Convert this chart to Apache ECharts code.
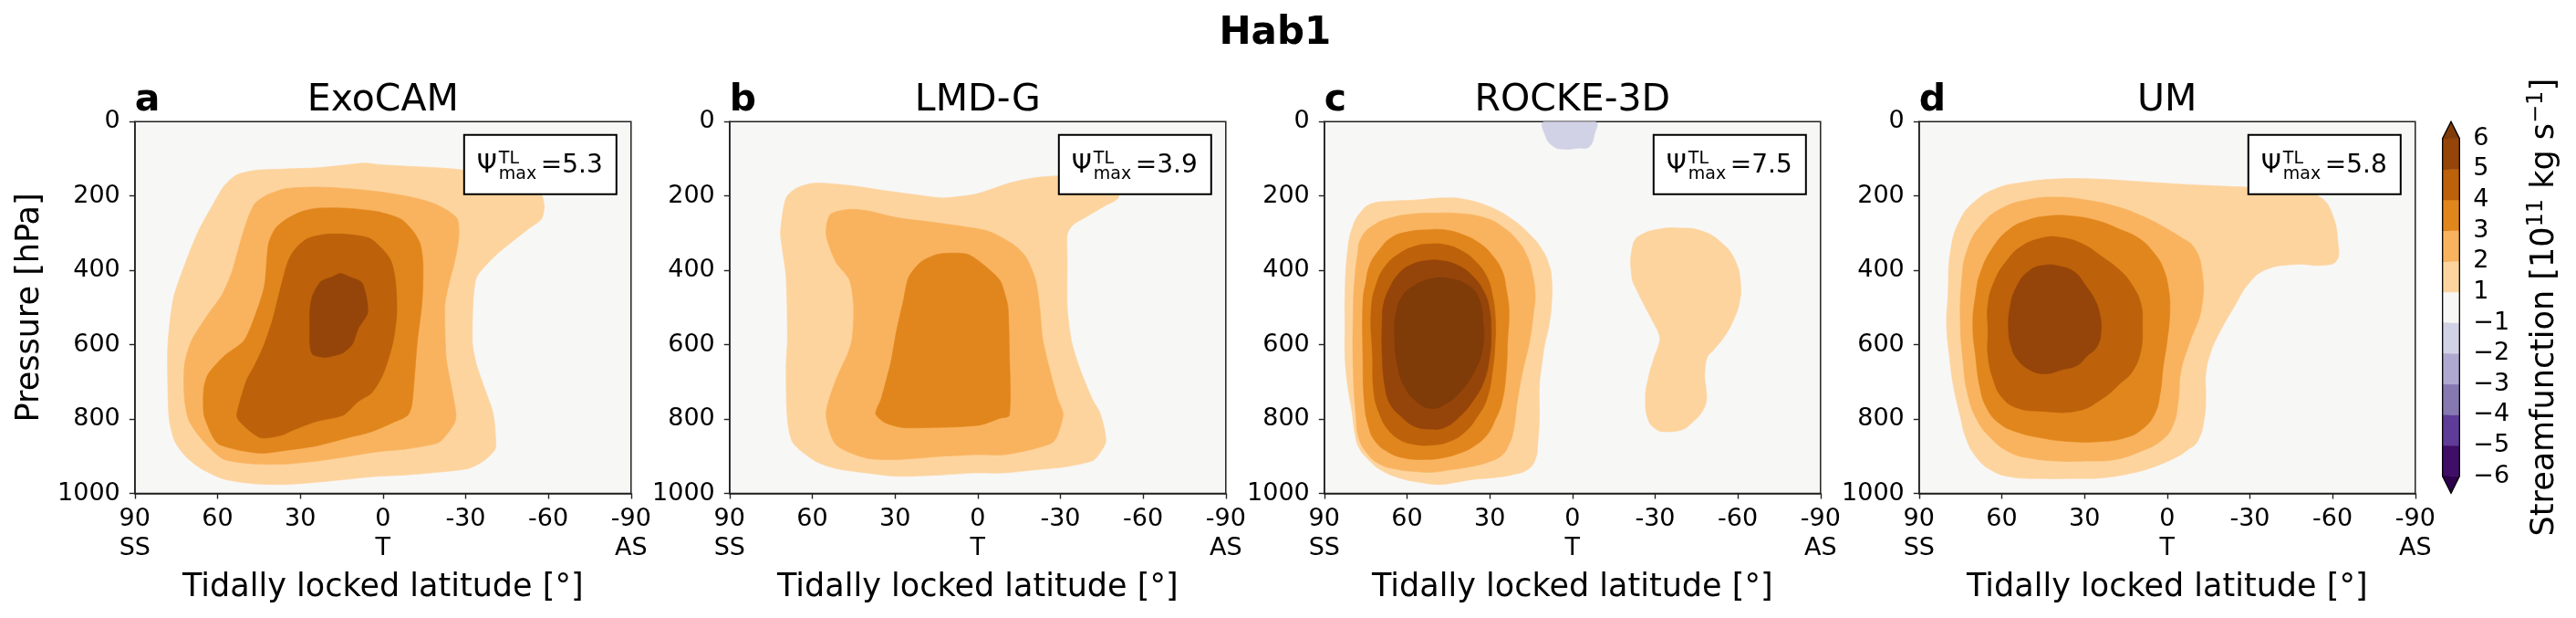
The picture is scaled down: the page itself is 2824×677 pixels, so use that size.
<!DOCTYPE html>
<html><head><meta charset="utf-8">
<script src="https://cdn.jsdelivr.net/npm/echarts@6/dist/echarts.min.js"></script>
<style>html,body{margin:0;padding:0;background:#fff}#c{width:2824px;height:677px}</style>
</head><body><div id="c"></div>
<script>
// ---------- categories / labels ----------
const models = ['ExoCAM', 'LMD-G', 'ROCKE-3D', 'UM'];
const panelLetters = ['a', 'b', 'c', 'd'];
const psiMax = ['5.3', '3.9', '7.5', '5.8'];
const latTicks = [90, 60, 30, 0, -30, -60, -90];
const latTickNames = ['SS', '', '', 'T', '', '', 'AS'];
const pressureTicks = [0, 200, 400, 600, 800, 1000];
const cbarLabels = ['\u22126', '\u22125', '\u22124', '\u22123', '\u22122', '\u22121', '1', '2', '3', '4', '5', '6'];
const cbarColors = ['#3f0e66', '#5f3c98', '#8679b1', '#afa8d0', '#d2d2e7', '#f7f7f6', '#fdd49e', '#f9b35f', '#e1861c', '#bd610a', '#954509'];
const cbarExtendColors = ['#2d004b', '#7f3b08'];
const levelColors = { '-1': '#d2d2e7', '1': '#fdd49e', '2': '#f9b35f', '3': '#e1861c', '4': '#bd610a', '5': '#954509', '6': '#7f3b08' };

// ---------- contour outlines [tidally locked latitude, pressure hPa] ----------
const exocam1 = [[78,720],[78,598],[76,475],[71.5,377],[67,295],[61.5,221],[57.5,172],[53,143],[46.5,131],[35,127],[24,124],[13,116],[6.5,111],[2,115],[-9,120],[-20,124],[-29,130],[-42,148],[-53,172],[-57.5,197],[-58.5,229],[-57.5,262],[-53,287],[-47.5,319],[-42,352],[-37.5,385],[-34,418],[-33,458],[-32.5,524],[-32.5,598],[-34,655],[-37,720],[-40,786],[-41,868],[-40.5,884],[-36.5,913],[-31,933],[-20,943],[-9,950],[2,954],[13,962],[24,970],[35,976],[46.5,974],[57.5,962],[66,933],[71.5,901],[75.5,860],[77.5,802]];
const exocam2 = [[72,745],[72,655],[69.5,590],[64,524],[58.5,467],[55,409],[52.5,344],[49.5,270],[46.5,221],[42,197],[35,180],[24,176],[13,180],[2,188],[-9,201],[-17.5,217],[-23,237],[-27,262],[-27.5,311],[-26,377],[-24,434],[-22.5,491],[-22.5,557],[-23,639],[-25,720],[-26.5,786],[-26,810],[-23,843],[-20,864],[-9,880],[2,888],[13,901],[24,913],[35,921],[46.5,921],[57.5,909],[62,884],[67,843],[70.5,802]];
const exocam3 = [[65,786],[65,720],[63.5,680],[57.5,630],[50.5,590],[46.5,524],[43,442],[41.5,328],[39,287],[35,262],[29.5,242],[24,233],[13,233],[2,242],[-6.5,262],[-11,295],[-13.5,328],[-14.5,377],[-14.5,442],[-14,500],[-12.5,590],[-11.5,680],[-10.5,761],[-9,790],[-3.5,810],[4.5,835],[13,851],[24,872],[35,884],[44,892],[52,884],[59.5,868],[61.5,851],[63.5,819]];
const exocam4 = [[53,786],[49.5,696],[46.5,655],[43,598],[40,532],[37.5,458],[34.5,377],[32,344],[27.5,315],[21,303],[13,303],[4.5,315],[-2.5,368],[-4.5,426],[-5,516],[-3.5,598],[0,680],[4,729],[9,753],[14.5,790],[24,806],[33,831],[36.5,843],[44,851],[48.5,831],[52.5,802]];
const exocam5 = [[26.5,508],[25.5,467],[22.5,430],[18.5,418],[15.5,408],[12,418],[7.5,434],[5.5,512],[9,557],[11,598],[14.5,622],[17.5,629],[21,634],[25.5,626],[26.5,598],[26.5,557]];

const lmdg1 = [[71.5,295],[69.5,205],[65.5,178],[59,165],[46,172],[35,184],[24,195],[12.5,205],[1.5,196],[-4,184],[-11.5,165],[-20.5,151],[-29,146],[-42.5,147],[-50,172],[-51,205],[-45.5,229],[-39,258],[-34.5,278],[-32.5,303],[-32.5,377],[-32.5,499],[-34,589],[-37,663],[-41.5,745],[-44.5,786],[-46.5,860],[-43.5,900],[-41.5,913],[-31.5,929],[-20.5,937],[-9.5,945],[1.5,945],[12.5,950],[29.5,954],[40.5,945],[51.5,933],[59,913],[67,864],[69,802],[69.5,663],[69,581],[69.5,418],[71,336]];
const lmdg2 = [[55,303],[53.5,250],[47,236],[40.5,239],[29.5,258],[18,269],[7,280],[-4,295],[-12.5,328],[-17.5,364],[-21,426],[-22.5,499],[-23.5,581],[-26,663],[-29,745],[-31,786],[-29,843],[-27,864],[-20.5,880],[-9.5,896],[1.5,896],[12.5,900],[29.5,909],[40.5,905],[51.5,868],[55,786],[51.5,696],[47,622],[45.5,581],[45,499],[46.5,426],[51.5,377]];
const lmdg3 = [[37,786],[35,745],[31.5,647],[29.5,565],[27,483],[25,418],[20.5,377],[14,356],[4,356],[-1.5,381],[-8,426],[-10,467],[-11,499],[-11.5,622],[-11.5,790],[-8,798],[-1.5,815],[7,821],[18,823],[27,823],[33.5,810]];

const rocke1 = [[76.5,241],[73,221],[66.5,214],[57.5,211],[46.5,205],[39,209],[30,229],[22,262],[15.5,303],[11,344],[8.5,385],[7.5,426],[7.5,483],[8.5,548],[10,598],[11,647],[12,712],[12,794],[12.5,860],[13.5,909],[16.5,937],[22,950],[29,958],[35.5,962],[42,970],[48.5,976],[55.5,970],[63,958],[69.5,937],[74,909],[77.5,876],[79,835],[80,778],[81.5,712],[82.5,630],[82.5,548],[82.5,467],[81.5,344],[79.5,278]];
const rocke2 = [[79.5,508],[79.5,671],[78.5,794],[77.5,851],[74.5,892],[70,921],[64,935],[57.5,941],[51,943],[44.5,937],[37.5,929],[31,917],[26,900],[23.5,876],[21.5,835],[20,753],[18,671],[15.5,589],[14,508],[13.5,467],[14.5,409],[16.5,360],[20,319],[25.5,282],[32,258],[41,247],[50,246],[57.5,248],[65.5,258],[72,278],[76.5,311],[78,360],[79,426]];
const rocke3 = [[76,483],[76,630],[75.5,753],[74,819],[71.5,860],[67,888],[61,905],[54,909],[47.5,905],[41,892],[35.5,872],[31,843],[28,802],[25.5,753],[24,671],[23.5,589],[23,508],[24,450],[25.5,401],[29,360],[33.5,328],[40,303],[46.5,291],[53,291],[59.5,296],[65.5,311],[70,344],[73.5,385],[75,434]];
const rocke4 = [[73,508],[72.5,630],[72,729],[70,786],[67,827],[62.5,856],[57.5,868],[51,870],[44.5,860],[39,835],[34.5,794],[31,745],[29,671],[28,589],[28,524],[29,467],[31,418],[35,377],[40,348],[45.5,332],[52,329],[57.5,336],[63,356],[67.5,385],[71,434]];
const rocke5 = [[69,532],[69,630],[68,712],[66,761],[62,794],[57.5,819],[52,827],[46.5,823],[41,794],[35.5,745],[32,696],[30,630],[29.5,565],[30,508],[32,459],[36.5,413],[42,385],[47.5,374],[53,374],[58.5,385],[63,409],[66.5,450],[68.5,491]];
const rocke6 = [[64.5,581],[64,516],[61.5,467],[57.5,442],[52,424],[44.5,422],[37.5,442],[34,475],[32.5,532],[32.5,606],[35.5,671],[41,729],[46.5,761],[51.5,771],[56.5,753],[61,712],[63.5,655]];
const rockeEast1 = [[-22,330],[-25,304],[-32.5,288],[-38.5,286],[-46.5,293],[-54,325],[-59,373],[-61,436],[-60.5,489],[-58.5,532],[-55.5,574],[-51,616],[-49,632],[-48,680],[-48.5,722],[-48.5,754],[-46.5,786],[-43,812],[-40,828],[-34,834],[-30.5,828],[-27.5,802],[-26.5,744],[-27.5,691],[-29.5,638],[-31.5,595],[-31.5,574],[-29.5,542],[-26.5,500],[-24,463],[-21.5,415]];
const rockeNeg1 = [[10.3,0],[10,34],[7,66],[2.5,74],[-2,71],[-6,68],[-8,34],[-8.3,0]];

const um1 = [[79.5,467],[78.5,344],[75,262],[69.5,213],[62,180],[53,164],[40,154],[26.5,154],[12.5,160],[-0.5,166],[-15.5,172],[-31,177],[-46,182],[-55.5,203],[-60,251],[-62,330],[-61.5,373],[-57,386],[-46,384],[-35.5,399],[-29.5,436],[-25,489],[-18.5,574],[-15.5,627],[-14,680],[-14,733],[-13.5,797],[-11,860],[-7,885],[-4,900],[3.5,925],[12.5,945],[23.5,958],[34.5,960],[45.5,960],[56.5,956],[64,937],[69.5,900],[73,851],[75,794],[77.5,712],[79,630],[80,548]];
const um2 = [[75,548],[74.5,426],[72.5,344],[67.5,278],[60,233],[50,209],[40,203],[29,211],[18,229],[9,254],[1.5,282],[-5,311],[-9.5,336],[-12.5,394],[-12.5,500],[-8,598],[-5,671],[-4,753],[-2,819],[2.5,860],[10,888],[19,909],[29,913],[40,913],[50,905],[57.5,888],[64,851],[69,802],[72.5,729],[74,647]];
const um3 = [[70.5,549],[69.5,467],[67.5,401],[63,336],[57.5,291],[51,266],[43.5,254],[34.5,254],[25.5,266],[18,287],[10,315],[4.5,356],[1.5,393],[-0.5,450],[-1,508],[0,589],[1.5,663],[2.5,729],[4.5,786],[9,827],[15.5,851],[25.5,861],[36.5,860],[45.5,851],[54.5,835],[61,811],[65.5,770],[68,712],[69.5,630]];
const um4 = [[65,565],[65,491],[62.5,426],[58.5,377],[53,336],[45.5,313],[39,311],[31,328],[23.5,364],[17,401],[12.5,442],[9.5,491],[9,549],[9.5,614],[12.5,671],[17,704],[23.5,745],[32.5,778],[45.5,779],[54.5,770],[60,741],[63,696],[65,630]];
const um5 = [[57.5,565],[57,499],[54.5,442],[50,401],[44.5,386],[39,389],[33.5,405],[29.5,442],[26.5,475],[24.5,516],[24,565],[25.5,606],[29,630],[32.5,655],[38,667],[44.5,678],[50,667],[54.5,638],[56.5,606]];

// contour level of each outline, drawn from lowest to highest
const panelShapes = [
  [[1, exocam1], [2, exocam2], [3, exocam3], [4, exocam4], [5, exocam5]],
  [[1, lmdg1], [2, lmdg2], [3, lmdg3]],
  [[-1, rockeNeg1], [1, rockeEast1], [1, rocke1], [2, rocke2], [3, rocke3], [4, rocke4], [5, rocke5], [6, rocke6]],
  [[1, um1], [2, um2], [3, um3], [4, um4], [5, um5]]
];
const panelSmooth = [0.25, 0.25, 0.45, 0.45];

// ---------- layout ----------
const FONT = 'DejaVu Sans';
const GL = [147.8, 799.8, 1451.8, 2103.8], GT = 133.3, GW = 544, GH = 407.2;
const AX = '#222';

const grids = [], xAxes = [], yAxes = [], series = [], titles = [], graphics = [];

titles.push({ text: 'Hab1', left: (GL[0] + GL[3] + GW) / 2, top: 16.5, textAlign: 'center', padding: 0,
  textStyle: { fontSize: 42, fontWeight: 'bold', fontFamily: FONT, color: '#000' } });

for (let i = 0; i < 4; i++) {
  grids.push({ left: GL[i], top: GT, width: GW, height: GH, show: true, backgroundColor: '#f7f7f6',
    borderColor: AX, borderWidth: 1.5, containLabel: false, outerBoundsMode: 'none' });
  xAxes.push({
    gridIndex: i, type: 'value', min: -90, max: 90, interval: 30, inverse: true,
    axisLine: { show: true, onZero: false, lineStyle: { color: AX, width: 1.5 } },
    axisTick: { show: true, length: 6, lineStyle: { color: AX, width: 1.4 } },
    axisLabel: { fontSize: 27, lineHeight: 32, color: '#000', margin: 12, fontFamily: FONT,
      formatter: v => { const k = latTicks.indexOf(v); const n = k >= 0 ? latTickNames[k] : ''; return n ? v + '\n' + n : String(v); } },
    splitLine: { show: false },
    name: 'Tidally locked latitude [°]', nameLocation: 'middle', nameGap: 86, nameMoveOverlap: false,
    nameTextStyle: { fontSize: 35, color: '#000', fontFamily: FONT }
  });
  yAxes.push({
    gridIndex: i, type: 'value', min: pressureTicks[0], max: pressureTicks[pressureTicks.length - 1], interval: 200, inverse: true,
    axisLine: { show: true, onZero: false, lineStyle: { color: AX, width: 1.5 } },
    axisTick: { show: true, length: 6, lineStyle: { color: AX, width: 1.4 } },
    axisLabel: { fontSize: 27, color: '#000', margin: 16, fontFamily: FONT, formatter: v => String(v) },
    splitLine: { show: false },
    name: i === 0 ? 'Pressure [hPa]' : '', nameLocation: 'middle', nameGap: 97, nameRotate: 90, nameMoveOverlap: false,
    nameTextStyle: { fontSize: 35, color: '#000', fontFamily: FONT }
  });
  const shapes = panelShapes[i];
  const sm = panelSmooth[i];
  series.push({
    type: 'custom', coordinateSystem: 'cartesian2d', xAxisIndex: i, yAxisIndex: i, clip: true, silent: true,
    data: shapes.map(s => s[1][0]),
    renderItem: (params, api) => {
      const s = shapes[params.dataIndex];
      const col = levelColors[String(s[0])];
      return { type: 'polygon', shape: { points: s[1].map(p => api.coord(p)), smooth: sm },
        style: { fill: col, stroke: col, lineWidth: 0.6 } };
    }
  });
  titles.push({ text: models[i], left: GL[i] + GW / 2, top: 90, textAlign: 'center', padding: 0,
    textStyle: { fontSize: 41, fontWeight: 'normal', fontFamily: FONT, color: '#000' } });
  titles.push({ text: panelLetters[i], left: GL[i], top: 90, padding: 0,
    textStyle: { fontSize: 41, fontWeight: 'bold', fontFamily: FONT, color: '#000' } });

  // Psi_max annotation box
  const bw = 167, bh = 65;
  const bx = GL[i] + GW - 16 - bw, by = GT + 14.4;
  graphics.push({ type: 'group', x: bx, y: by, z: 100, children: [
    { type: 'rect', shape: { x: 0, y: 0, width: bw, height: bh }, style: { fill: '#fff', stroke: '#000', lineWidth: 2 }, z: 100 },
    { type: 'text', x: 14, y: 34.2, z: 101, style: { text: '\u03A8', fontSize: 28, fontFamily: FONT, fill: '#000', verticalAlign: 'middle' } },
    { type: 'text', x: 38, y: 26, z: 101, style: { text: 'TL', fontSize: 19, fontFamily: FONT, fill: '#000', verticalAlign: 'middle' } },
    { type: 'text', x: 38, y: 43.4, z: 101, style: { text: 'max', fontSize: 19, fontFamily: FONT, fill: '#000', verticalAlign: 'middle' } },
    { type: 'text', x: 84, y: 34.3, z: 101, style: { text: '=' + psiMax[i], fontSize: 28, fontFamily: FONT, fill: '#000', verticalAlign: 'middle' } }
  ] });
}

// ---------- colorbar ----------
const CB = { left: 2677.7, top: 151.7, width: 18.6, height: 370 };
grids.push({ left: CB.left, top: CB.top, width: CB.width, height: CB.height, show: false, containLabel: false, outerBoundsMode: 'none' });
xAxes.push({ gridIndex: 4, type: 'value', min: 0, max: 1, show: false });
yAxes.push({
  gridIndex: 4, type: 'value', min: 0, max: cbarLabels.length - 1, interval: 1, position: 'right',
  axisLine: { show: false },
  axisTick: { show: true, length: 7, lineStyle: { color: '#000', width: 1.4 } },
  axisLabel: { fontSize: 27, color: '#000', margin: 15, fontFamily: FONT, formatter: v => cbarLabels[v] },
  splitLine: { show: false },
  name: 'Streamfunction [10{sup|11} kg s{sup|\u22121}]', nameLocation: 'middle', nameGap: 72, nameRotate: 90, nameMoveOverlap: false,
  nameTextStyle: { fontSize: 35, color: '#000', fontFamily: FONT, lineHeight: 44,
    rich: { sup: { fontSize: 24, fontFamily: FONT, color: '#000', verticalAlign: 'top', lineHeight: 44 } } }
});
const nBands = cbarColors.length;
series.push({
  type: 'custom', coordinateSystem: 'cartesian2d', xAxisIndex: 4, yAxisIndex: 4, silent: true,
  data: cbarColors.map((c, k) => [0, k]),
  renderItem: (params, api) => {
    const k = params.dataIndex;
    const a = api.coord([0, k + 1]), b = api.coord([1, k]);
    return { type: 'rect', shape: { x: a[0], y: a[1], width: b[0] - a[0], height: b[1] - a[1] },
      style: { fill: cbarColors[k], stroke: cbarColors[k], lineWidth: 0.5 } };
  }
});
series.push({
  type: 'custom', coordinateSystem: 'cartesian2d', xAxisIndex: 4, yAxisIndex: 4, silent: true,
  data: [[0, 0], [0, nBands]],
  renderItem: (params, api) => {
    const k = params.dataIndex;
    const pts = k === 0 ? [[0, 0], [1, 0], [0.5, -0.55]] : [[0, nBands], [1, nBands], [0.5, nBands + 0.55]];
    return { type: 'polygon', shape: { points: pts.map(p => api.coord(p)) },
      style: { fill: cbarExtendColors[k], stroke: cbarExtendColors[k], lineWidth: 0.5 } };
  }
});
series.push({
  type: 'custom', coordinateSystem: 'cartesian2d', xAxisIndex: 4, yAxisIndex: 4, silent: true, z: 5,
  data: [[0, 0]],
  renderItem: (params, api) => {
    const pts = [[0, 0], [0.5, -0.55], [1, 0], [1, nBands], [0.5, nBands + 0.55], [0, nBands]];
    return { type: 'polygon', shape: { points: pts.map(p => api.coord(p)) },
      style: { fill: 'none', stroke: '#000', lineWidth: 1.3 } };
  }
});

const chart = echarts.init(document.getElementById('c'), null, { renderer: 'canvas', width: 2824, height: 677 });
chart.setOption({
  animation: false,
  backgroundColor: '#fff',
  textStyle: { fontFamily: FONT },
  title: titles,
  grid: grids,
  xAxis: xAxes,
  yAxis: yAxes,
  series: series,
  graphic: graphics
});
</script></body></html>
